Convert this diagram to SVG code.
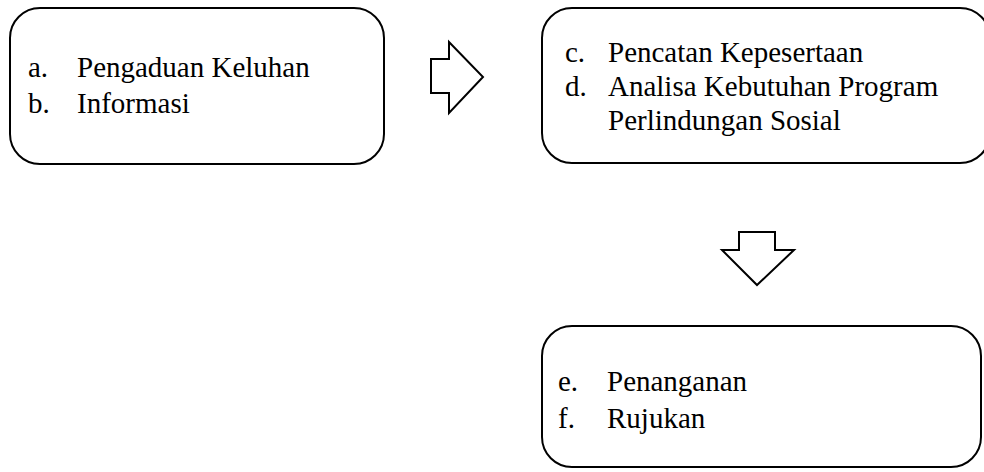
<svg xmlns="http://www.w3.org/2000/svg" width="984" height="472" viewBox="0 0 984 472">
<style>
.box{fill:#fff;stroke:#000;stroke-width:2}
.arr{fill:#fff;stroke:#000;stroke-width:2;stroke-linejoin:miter}
text{font-family:"Liberation Serif","Times New Roman",serif;font-size:29px;fill:#000}
</style>
<rect width="984" height="472" fill="#fff"/>
<g id="node-a">
<rect class="box" x="10" y="8" width="374" height="156" rx="30" ry="30"/>
<text x="28" y="77">a.</text><text x="77" y="77">Pengaduan Keluhan</text>
<text x="28" y="113">b.</text><text x="77" y="113">Informasi</text>
</g>
<g id="node-c">
<rect class="box" x="542" y="8" width="448" height="155" rx="30" ry="30"/>
<text x="565" y="62">c.</text><text x="608" y="62">Pencatan Kepesertaan</text>
<text x="565" y="96">d.</text><text x="608" y="96">Analisa Kebutuhan Program</text>
<text x="608" y="130">Perlindungan Sosial</text>
</g>
<g id="node-e">
<rect class="box" x="542" y="326" width="439" height="141" rx="30" ry="30"/>
<text x="558" y="391">e.</text><text x="607" y="391">Penanganan</text>
<text x="558" y="428">f.</text><text x="607" y="428">Rujukan</text>
</g>
<g id="connectors">
<polygon class="arr" points="431,59 449,59 449,42 483,77 449,113 449,93 431,93"/>
<polygon class="arr" points="739,232 775,232 775,250 794,250 757,285 722,250 739,250"/>
</g>
</svg>
